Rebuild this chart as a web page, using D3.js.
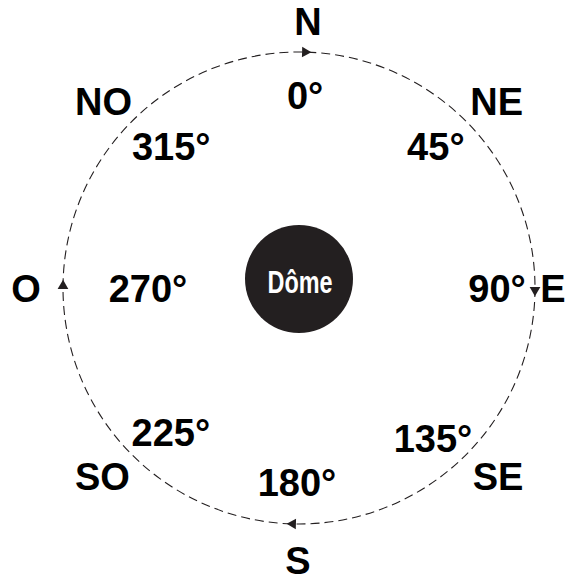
<!DOCTYPE html>
<html>
<head>
<meta charset="utf-8">
<script src="https://cdn.jsdelivr.net/npm/d3@7"></script>
<style>
  html, body { margin: 0; padding: 0; background: #fff; }
  svg { display: block; }
</style>
</head>
<body>
<div id="chart"></div>
<script>
    "use strict";

    // compass points (French) and their bearings
    var cardinalNames = ["N", "NE", "E", "SE", "S", "SO", "O", "NO"];
    var bearings = [0, 45, 90, 135, 180, 225, 270, 315];
    var bearingLabels = ["0°", "45°", "90°", "135°", "180°", "225°", "270°", "315°"];
    // arrows drawn on the path, pointing clockwise
    var arrowBearings = [1.5, 90.5, 181.5, 270.5];
    var centreLabel = ["Dôme"];

    var width = 579, height = 582;
    var cx = 299, cy = 288;
    var ringRadius = 236;

    var svg = d3.select("#chart")
        .append("svg")
        .attr("xmlns", "http://www.w3.org/2000/svg")
        .attr("width", width)
        .attr("height", height);

    // bearing (deg) -> radians, 0 at top, clockwise
    var angle = d3.scaleLinear().domain([0, 360]).range([0, 2 * Math.PI]);

    function px(deg, r) { return cx + r * Math.sin(angle(deg)); }
    function py(deg, r) { return cy - r * Math.cos(angle(deg)); }

    var g = svg.append("g");

    // dashed path round the dome
    g.append("circle")
        .attr("cx", cx)
        .attr("cy", cy)
        .attr("r", ringRadius)
        .attr("fill", "none")
        .attr("stroke", "#231f20")
        .attr("stroke-width", 1.1)
        .attr("stroke-dasharray", "9,5");

    // direction arrows (triangles tangent to the ring)
    var tri = d3.symbol().type(d3.symbolTriangle).size(50);
    g.selectAll("path.arrow")
        .data(arrowBearings)
        .enter()
        .append("path")
        .attr("class", "arrow")
        .attr("d", tri)
        .attr("fill", "#231f20")
        .attr("transform", function (d) {
            // symbolTriangle points up; rotate so it points clockwise
            return "translate(" + px(d, ringRadius) + "," + py(d, ringRadius) + ") rotate(" + (d + 90) + ")";
        });

    // the dome
    g.append("circle")
        .attr("cx", cx)
        .attr("cy", 279)
        .attr("r", 54)
        .attr("fill", "#231f20");

    g.selectAll("text.centre")
        .data(centreLabel)
        .enter()
        .append("text")
        .attr("class", "centre")
        .attr("x", cx + 1)
        .attr("y", 293)
        .attr("text-anchor", "middle")
        .attr("font-family", "'Liberation Sans Narrow', 'Arial Narrow', 'Liberation Sans', Arial, sans-serif")
        .attr("font-weight", "bold")
        .attr("font-size", "31px")
        .attr("textLength", 65)
        .attr("lengthAdjust", "spacingAndGlyphs")
        .attr("fill", "#fff")
        .text(function (d) { return d; });

    var labelFont = "'Liberation Sans', Arial, Helvetica, sans-serif";

    // label placement: radius and small angular nudge per point
    var outerR = [267, 272, 254, 274, 272, 272, 273, 270];
    var outerNudge = [1.9, 1.6, 0, -1.6, 0.2, 1.3, 0, -1.4];
    var innerR = [193, 197, 198, 201, 194, 193, 151, 191];
    var innerNudge = [1.8, -1, 0, 3.2, 0.6, -3.4, 0, 3];

    g.selectAll("text.cardinal")
        .data(cardinalNames)
        .enter()
        .append("text")
        .attr("class", "cardinal")
        .attr("x", function (d, i) { return px(bearings[i] + outerNudge[i], outerR[i]); })
        .attr("y", function (d, i) { return py(bearings[i] + outerNudge[i], outerR[i]); })
        .attr("dy", "0.36em")
        .attr("text-anchor", "middle")
        .attr("font-family", labelFont)
        .attr("font-weight", "bold")
        .attr("font-size", "38px")
        .attr("fill", "#000")
        .text(function (d) { return d; });

    g.selectAll("text.bearing")
        .data(bearingLabels)
        .enter()
        .append("text")
        .attr("class", "bearing")
        .attr("x", function (d, i) { return px(bearings[i] + innerNudge[i], innerR[i]); })
        .attr("y", function (d, i) { return py(bearings[i] + innerNudge[i], innerR[i]); })
        .attr("dy", "0.36em")
        .attr("text-anchor", "middle")
        .attr("font-family", labelFont)
        .attr("font-weight", "bold")
        .attr("font-size", "38px")
        .attr("fill", "#000")
        .text(function (d) { return d; });
</script>
</body>
</html>
